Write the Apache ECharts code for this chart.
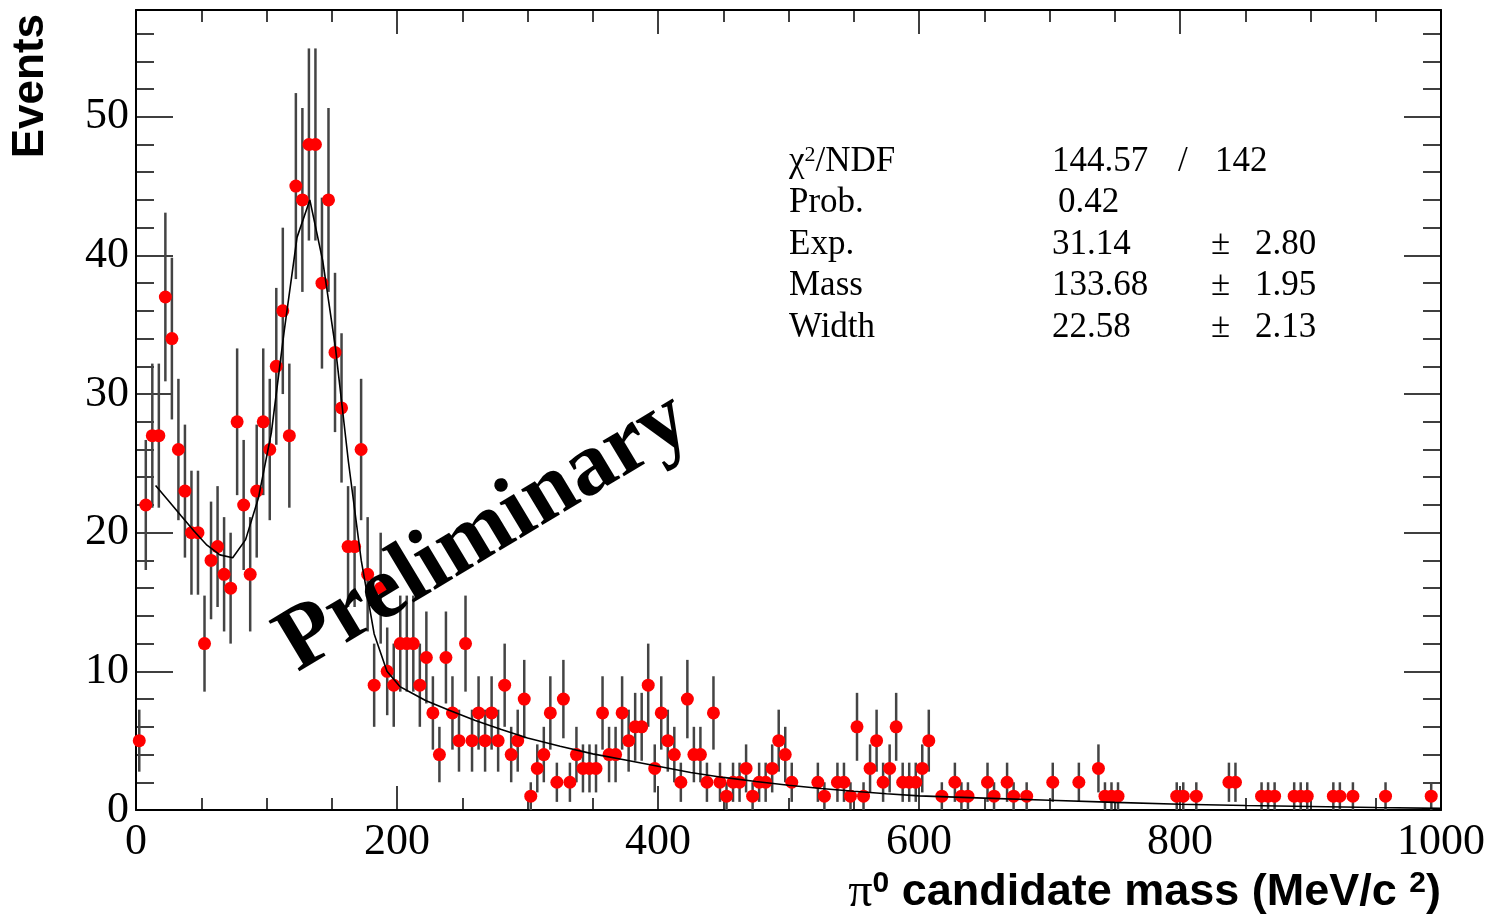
<!DOCTYPE html>
<html>
<head>
<meta charset="utf-8">
<script src="https://cdn.jsdelivr.net/npm/echarts@6/dist/echarts.min.js"></script>
<style>
html,body{margin:0;padding:0;background:#fff;}
#chart{width:1493px;height:919px;}
</style>
</head>
<body>
<div id="chart"></div>
<script>
// ---- data ----
const binWidth = 5; // MeV per histogram bin, bins from 0 to 1000 MeV
const counts = [
  5,22,27,27,37,34,26,23,20,20,12,18,19,17,16,28,22,17,23,28,
  26,32,36,27,45,44,48,48,38,44,33,29,19,19,26,17,9,16,10,9,
  12,12,12,9,11,7,4,11,7,5,12,5,7,5,7,5,9,4,5,8,
  1,3,4,7,2,8,2,4,3,3,3,7,4,4,7,5,6,6,9,3,
  7,5,4,2,8,4,4,2,7,2,1,2,2,3,1,2,2,3,5,4,
  2,0,0,0,2,1,0,2,2,1,6,1,3,5,2,3,6,2,2,2,
  3,5,0,1,0,2,1,1,0,0,2,1,0,2,1,0,1,0,0,0,
  2,0,0,0,2,0,0,3,1,1,1,0,0,0,0,0,0,0,0,1,
  1,0,1,0,0,0,0,2,2,0,0,0,1,1,1,0,0,1,1,1,
  0,0,0,1,1,0,1,0,0,0,0,1,0,0,0,0,0,0,1,0
];
// fit curve (Gaussian + background)
const fitMass = [15,24.9,34.7,44.6,54.4,64.3,74.1,84,93.8,103.7,113.5,123.4,133.2,143.1,152.9,162.8,172.6,182.5,192.3,202.2,212,221.9,240,260,280,300,325,350,375,400,425,450,475,500,525,550,575,600,650,700,750,800,850,900,950,1000];
const fitEvents = [23.4,22.3,21.2,20.1,19.1,18.4,18.2,19.5,22.5,27.2,34.5,41.3,44.0,39.6,33.3,25.1,18.0,12.7,10.0,8.9,8.4,7.9,7.2,6.45,5.8,5.2,4.6,4.05,3.6,3.15,2.7,2.35,2.05,1.78,1.55,1.35,1.17,1.02,0.86,0.7,0.55,0.42,0.32,0.25,0.18,0.12];
const xTicks = [0,200,400,600,800,1000];
const yTicks = [0,10,20,30,40,50];
const statNames = ['χ{s|2}/NDF','Prob.','Exp.','Mass','Width'];
const statValues = ['144.57','0.42','31.14','133.68','22.58'];
const statErrors = ['142','','2.80','1.95','2.13'];

// ---- build series data ----
const points = [];
const bars = [];
counts.forEach(function (n, k) {
  if (n > 0) {
    const m = binWidth * (k + 0.5);
    points.push([m, n]);
    bars.push([m, n, Math.sqrt(n)]);
  }
});
const fitLine = fitMass.map(function (m, i) { return [m, fitEvents[i]]; });

const chart = echarts.init(document.getElementById('chart'), null, {renderer: 'canvas'});

const serif = 'Liberation Serif, DejaVu Serif, serif';
const sans = 'Liberation Sans, DejaVu Sans, sans-serif';

function xAxisDef(pos, labels) {
  return {
    type: 'value', position: pos, min: xTicks[0], max: xTicks[xTicks.length - 1],
    interval: xTicks[1] - xTicks[0],
    axisLine: {show: true, onZero: false, lineStyle: {color: '#000', width: 2}},
    axisTick: {show: true, inside: true, length: 24, lineStyle: {color: '#000', width: 1.5}},
    minorTick: {show: true, splitNumber: 4, length: 12, lineStyle: {color: '#000', width: 1.5}},
    splitLine: {show: false}, minorSplitLine: {show: false},
    axisLabel: {show: labels, color: '#000', fontFamily: serif, fontSize: 44, margin: 10,
      formatter: function (v) { return String(v); }}
  };
}
function yAxisDef(pos, labels) {
  return {
    type: 'value', position: pos, min: yTicks[0], max: 57.7,
    interval: yTicks[1] - yTicks[0],
    axisLine: {show: true, onZero: false, lineStyle: {color: '#000', width: 2}},
    axisTick: {show: true, inside: true, length: 37, lineStyle: {color: '#000', width: 1.5}},
    minorTick: {show: true, splitNumber: 5, length: 18, lineStyle: {color: '#000', width: 1.5}},
    splitLine: {show: false}, minorSplitLine: {show: false},
    axisLabel: {show: labels, color: '#000', fontFamily: serif, fontSize: 44, margin: 7,
      formatter: function (v) { return yTicks.indexOf(v) >= 0 ? String(v) : ''; }}
  };
}

const statX = [789, 1052, 1255];
const statY = [162, 203, 245, 286, 328];
const graphics = [];
statNames.forEach(function (name, i) {
  graphics.push({type: 'text', x: statX[0], y: statY[i], style: {
    text: name, fill: '#000', font: '35px ' + serif, verticalAlign: 'middle', align: 'left',
    rich: {s: {fontSize: 22, fontFamily: serif, verticalAlign: 'top', fill: '#000'}}
  }});
  graphics.push({type: 'text', x: statX[1] + (i === 1 ? 6 : 0), y: statY[i], style: {
    text: statValues[i], fill: '#000', font: '35px ' + serif, verticalAlign: 'middle', align: 'left'
  }});
  if (statErrors[i] !== '') {
    if (i === 0) {
      graphics.push({type: 'text', x: 1178, y: statY[i], style: {text: '/', fill: '#000', font: '35px ' + serif, verticalAlign: 'middle'}});
      graphics.push({type: 'text', x: 1215, y: statY[i], style: {text: statErrors[i], fill: '#000', font: '35px ' + serif, verticalAlign: 'middle'}});
    } else {
      graphics.push({type: 'text', x: 1211, y: statY[i], style: {text: '±', fill: '#000', font: '35px ' + serif, verticalAlign: 'middle'}});
      graphics.push({type: 'text', x: statX[2], y: statY[i], style: {text: statErrors[i], fill: '#000', font: '35px ' + serif, verticalAlign: 'middle'}});
    }
  }
});
// axis titles
graphics.push({type: 'text', x: 31, y: 14, rotation: Math.PI / 2, style: {
  text: 'Events', fill: '#000', font: 'bold 44px ' + sans, align: 'right', verticalAlign: 'middle'
}});
graphics.push({type: 'text', x: 1441, y: 893, style: {
  text: '{p|π}{s|0}{b| candidate mass (MeV/c }{s|2}{b|)}',
  align: 'right', verticalAlign: 'middle', fill: '#000',
  rich: {
    p: {fontFamily: serif, fontSize: 48, fill: '#000'},
    s: {fontFamily: sans, fontWeight: 'bold', fontSize: 30, verticalAlign: 'top', fill: '#000'},
    b: {fontFamily: sans, fontWeight: 'bold', fontSize: 45, fill: '#000'}
  }
}});
// watermark
graphics.push({type: 'text', x: 484, y: 533, rotation: 31 * Math.PI / 180, z: 100, style: {
  text: 'Preliminary', fill: '#000', font: 'bold 90px ' + serif, align: 'center', verticalAlign: 'middle'
}});

chart.setOption({
  animation: false,
  backgroundColor: '#fff',
  grid: {left: 136, right: 52, top: 10, bottom: 109, containLabel: false},
  xAxis: [xAxisDef('bottom', true), xAxisDef('top', false)],
  yAxis: [yAxisDef('left', true), yAxisDef('right', false)],
  graphic: graphics,
  series: [
    {
      type: 'custom', name: 'errors', xAxisIndex: 0, yAxisIndex: 0, z: 2,
      data: bars,
      renderItem: function (params, api) {
        const x = api.value(0), y = api.value(1), e = api.value(2);
        const a = api.coord([x, y + e]);
        const b = api.coord([x, Math.max(0, y - e)]);
        return {type: 'line', shape: {x1: a[0], y1: a[1], x2: b[0], y2: b[1]},
          style: {stroke: '#444', lineWidth: 2.5}};
      }
    },
    {
      type: 'scatter', name: 'data', xAxisIndex: 0, yAxisIndex: 0, z: 3,
      data: points, symbol: 'circle', symbolSize: 13,
      itemStyle: {color: '#ff0000', opacity: 1}
    },
    {
      type: 'line', name: 'fit', xAxisIndex: 0, yAxisIndex: 0, z: 4,
      data: fitLine, showSymbol: false, smooth: false,
      lineStyle: {color: '#000', width: 1.6}
    }
  ]
});
</script>
</body>
</html>
